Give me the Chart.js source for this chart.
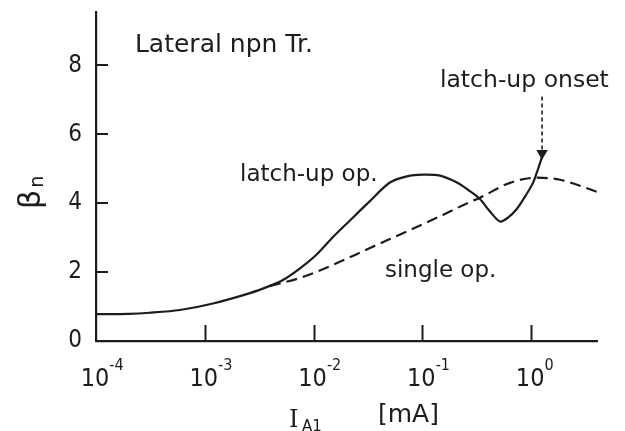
<!DOCTYPE html>
<html>
<head>
<meta charset="utf-8">
<script src="https://cdn.jsdelivr.net/npm/chart.js@4"></script>
<style>
  html, body { margin: 0; padding: 0; background: #fff; }
  #wrap { width: 625px; height: 431px; }
</style>
</head>
<body>
<div id="wrap"><canvas id="chart" width="625" height="431"></canvas></div>
<script>
// ─── Data ─────────────────────────────────────────────────────────────────────

// latch-up operation (solid curve): I_A1 [mA] and beta_n
const latchX = [0.0001, 0.0002, 0.00031, 0.00059, 0.00119, 0.0026, 0.00397, 0.00523, 0.0075,
                0.01074, 0.01508, 0.0216, 0.031, 0.0503, 0.0721, 0.1014, 0.1452, 0.208, 0.2624,
                0.338, 0.418, 0.516, 0.612, 0.74, 0.89, 1.04, 1.15, 1.26];
const latchY = [0.78, 0.79, 0.82, 0.90, 1.09, 1.39, 1.60, 1.77, 2.11,
                2.52, 3.02, 3.50, 3.98, 4.60, 4.78, 4.83, 4.80, 4.60, 4.39,
                4.12, 3.76, 3.47, 3.58, 3.84, 4.22, 4.59, 4.97, 5.35];

// single operation (dashed curve)
const singleX = [0.00397, 0.0075, 0.01508, 0.033, 0.0721, 0.1545, 0.2624, 0.338, 0.638, 1.13, 1.84, 4.03];
const singleY = [1.60, 1.83, 2.21, 2.70, 3.18, 3.66, 4.01, 4.16, 4.59, 4.74, 4.68, 4.33];

// "latch-up onset" pointer
const onsetX = [1.26, 1.26];
const onsetY = [7.1, 5.45];

// axes
const xTicks = [1e-4, 1e-3, 1e-2, 1e-1, 1];
const xTickExp = ['-4', '-3', '-2', '-1', '0'];
const yTicks = [0, 2, 4, 6, 8];
const xMin = 1e-4, xMax = 4.03;
const yMin = 0, yMax = 9.55;

// ─── Style ────────────────────────────────────────────────────────────────────

const INK = '#1c1c1c';
const FONT = "'DejaVu Sans', sans-serif";
const NARROW = "'DejaVu Sans Condensed', 'DejaVu Sans', sans-serif";

const toPoints = (xs, ys) => xs.map((x, i) => ({ x, y: ys[i] }));

// text annotations, anchored in data coordinates (left, baseline)
const notes = [
  { text: 'Lateral npn Tr.', x: 0.000228, y: 8.40, size: 25 },
  { text: 'latch-up op.', x: 0.00211, y: 4.65, size: 23 },
  { text: 'single op.', x: 0.0453, y: 1.86, size: 23 },
  { text: 'latch-up onset', x: 0.145, y: 7.38, size: 23.5 },
];

// ─── Plugin: inward ticks, decade labels, axis titles, notes ─────────────────

const figurePlugin = {
  id: 'figure',
  afterDraw(chart) {
    const { ctx, scales: { x, y } } = chart;
    const x0 = x.getPixelForValue(xMin);
    const y0 = y.getPixelForValue(0);

    ctx.save();
    ctx.strokeStyle = INK;
    ctx.fillStyle = INK;
    ctx.lineWidth = 2;

    // tick marks pointing into the plot
    xTicks.slice(1).forEach(v => {
      const px = Math.round(x.getPixelForValue(v)) + 0.5;
      ctx.beginPath(); ctx.moveTo(px, y0); ctx.lineTo(px, y0 - 16); ctx.stroke();
    });
    yTicks.slice(1).forEach(v => {
      const py = Math.round(y.getPixelForValue(v));
      ctx.beginPath(); ctx.moveTo(x0, py); ctx.lineTo(x0 + 12, py); ctx.stroke();
    });

    // decade labels 10^n
    xTicks.forEach((v, i) => {
      const px = x.getPixelForValue(v);
      ctx.font = `25px ${NARROW}`;
      ctx.textAlign = 'center';
      ctx.textBaseline = 'alphabetic';
      ctx.fillText('10', px - 1, 386);
      const w = ctx.measureText('10').width;
      ctx.font = `16px ${NARROW}`;
      ctx.textAlign = 'left';
      ctx.fillText(xTickExp[i], px - 1 + w / 2, 370);
    });

    // x axis title: I_A1  [mA]
    ctx.textAlign = 'left';
    ctx.font = `24px 'DejaVu Serif', serif`;
    ctx.fillText('I', 289, 427);
    ctx.font = `15px ${FONT}`;
    ctx.fillText('A1', 302, 431);
    ctx.font = `25px ${FONT}`;
    ctx.fillText('[mA]', 378, 422);

    // y axis title: beta_n, rotated
    ctx.save();
    ctx.translate(40, 209);
    ctx.rotate(-Math.PI / 2);
    ctx.font = `30px ${FONT}`;
    ctx.fillText('β', 0, 0);
    const bw = ctx.measureText('β').width;
    ctx.font = `19px ${FONT}`;
    ctx.fillText('n', bw + 2, 3);
    ctx.restore();

    // notes
    notes.forEach(n => {
      ctx.font = `${n.size}px ${FONT}`;
      ctx.fillText(n.text, x.getPixelForValue(n.x), y.getPixelForValue(n.y));
    });

    ctx.restore();
  }
};

// ─── Chart ────────────────────────────────────────────────────────────────────

new Chart(document.getElementById('chart'), {
  type: 'line',
  data: {
    datasets: [
      {
        label: 'latch-up op.',
        data: toPoints(latchX, latchY),
        borderColor: INK,
        borderWidth: 2.2,
        pointRadius: 0,
        tension: 0.3,
      },
      {
        label: 'single op.',
        data: toPoints(singleX, singleY),
        borderColor: INK,
        borderWidth: 2.2,
        borderDash: [11, 6],
        pointRadius: 0,
        cubicInterpolationMode: 'monotone',
      },
      {
        label: 'latch-up onset',
        data: toPoints(onsetX, onsetY),
        borderColor: INK,
        borderWidth: 1.6,
        borderDash: [4, 3],
        pointStyle: 'triangle',
        pointRotation: 180,
        pointRadius: [0, 5],
        pointBackgroundColor: INK,
        pointBorderColor: INK,
        tension: 0,
      },
    ]
  },
  options: {
    responsive: false,
    animation: false,
    events: [],
    layout: { padding: { top: 12, right: 28, left: 0, bottom: 0 } },
    plugins: {
      legend: { display: false },
      tooltip: { enabled: false },
    },
    scales: {
      x: {
        type: 'logarithmic',
        min: xMin,
        max: xMax,
        grid: { display: false, drawTicks: false },
        border: { display: true, color: INK, width: 2.2 },
        ticks: { display: false },
        afterBuildTicks: s => { s.ticks = xTicks.map(value => ({ value })); },
        afterFit: s => { s.height = 90; s.paddingLeft = 0; s.paddingRight = 0; },
      },
      y: {
        type: 'linear',
        min: yMin,
        max: yMax,
        grid: { display: false, drawTicks: false },
        border: { display: true, color: INK, width: 2.2 },
        ticks: {
          color: INK,
          padding: 14,
          font: { family: NARROW, size: 24 },
        },
        afterBuildTicks: s => { s.ticks = yTicks.map(value => ({ value })); },
        afterFit: s => { s.width = 96; s.paddingTop = 0; s.paddingBottom = 0; },
      },
    }
  },
  plugins: [figurePlugin]
});
</script>
</body>
</html>
